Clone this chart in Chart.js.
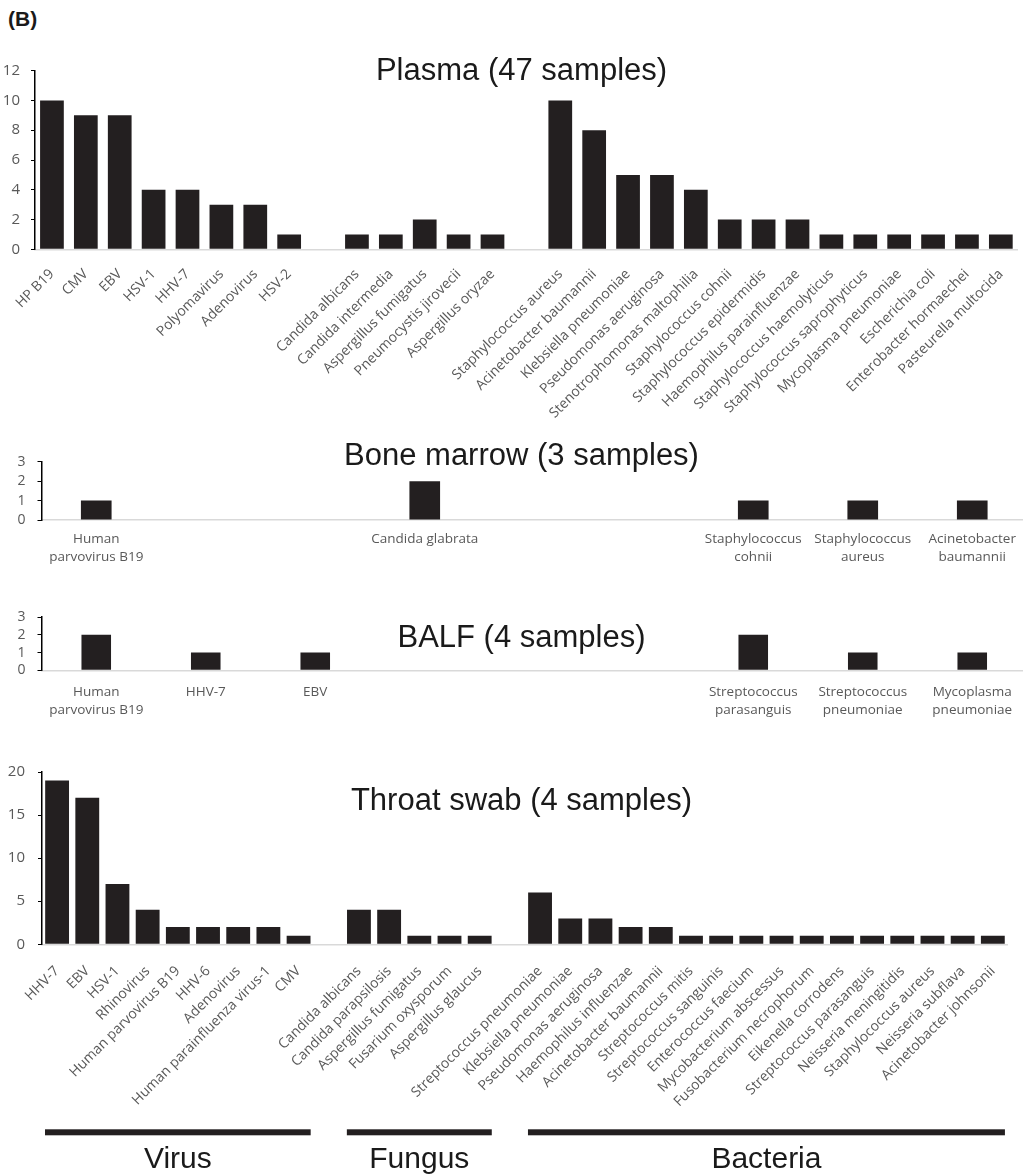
<!DOCTYPE html>
<html><head><meta charset="utf-8">
<script src="https://cdn.jsdelivr.net/npm/chart.js@4/dist/chart.umd.min.js"></script>
<style>
html,body{margin:0;padding:0;background:#fff;overflow:hidden;width:1023px;height:1176px;position:relative;}
canvas{position:absolute;left:0;}
.title{position:absolute;left:0;width:1043px;text-align:center;font-family:"Liberation Sans",Arial,sans-serif;font-size:31px;line-height:31px;color:#1a1a1a;white-space:nowrap;}
#panelB{position:absolute;left:8px;top:8px;font:bold 21px/21px "Liberation Sans",Arial,sans-serif;color:#1a1a1a;}
</style></head><body>
<div id="panelB">(B)</div>
<canvas id="plasma"></canvas>
<canvas id="bone"></canvas>
<canvas id="balf"></canvas>
<canvas id="throat"></canvas>
<div class="title" style="top:54px">Plasma (47 samples)</div>
<div class="title" style="top:439px">Bone marrow (3 samples)</div>
<div class="title" style="top:621px">BALF (4 samples)</div>
<div class="title" style="top:784px">Throat swab (4 samples)</div>
<script>
// ---------- DATA ----------
const groupNames = ['Virus', 'Fungus', 'Bacteria'];

const plasmaVirus = ['HP B19','CMV','EBV','HSV-1','HHV-7','Polyomavirus','Adenovirus','HSV-2'];
const plasmaVirusCounts = [10,9,9,4,4,3,3,1];
const plasmaFungus = ['Candida albicans','Candida intermedia','Aspergillus fumigatus','Pneumocystis jirovecii','Aspergillus oryzae'];
const plasmaFungusCounts = [1,1,2,1,1];
const plasmaBacteria = ['Staphylococcus aureus','Acinetobacter baumannii','Klebsiella pneumoniae','Pseudomonas aeruginosa','Stenotrophomonas maltophilia','Staphylococcus cohnii','Staphylococcus epidermidis','Haemophilus parainfluenzae','Staphylococcus haemolyticus','Staphylococcus saprophyticus','Mycoplasma pneumoniae','Escherichia coli','Enterobacter hormaechei','Pasteurella multocida'];
const plasmaBacteriaCounts = [10,8,5,5,4,2,2,2,1,1,1,1,1,1];
const plasmaTicks = {max: 12, step: 2};

const boneVirus = [['Human','parvovirus B19']];
const boneVirusCounts = [1];
const boneFungus = ['Candida glabrata'];
const boneFungusCounts = [2];
const boneBacteria = [['Staphylococcus','cohnii'],['Staphylococcus','aureus'],['Acinetobacter','baumannii']];
const boneBacteriaCounts = [1,1,1];
const boneTicks = {max: 3, step: 1};

const balfVirus = [['Human','parvovirus B19'],'HHV-7','EBV'];
const balfVirusCounts = [2,1,1];
const balfFungus = [];
const balfFungusCounts = [];
const balfBacteria = [['Streptococcus','parasanguis'],['Streptococcus','pneumoniae'],['Mycoplasma','pneumoniae']];
const balfBacteriaCounts = [2,1,1];
const balfTicks = {max: 3, step: 1};

const throatVirus = ['HHV-7','EBV','HSV-1','Rhinovirus','Human parvovirus B19','HHV-6','Adenovirus','Human parainfluenza virus-1','CMV'];
const throatVirusCounts = [19,17,7,4,2,2,2,2,1];
const throatFungus = ['Candida albicans','Candida parapsilosis','Aspergillus fumigatus','Fusarium oxysporum','Aspergillus glaucus'];
const throatFungusCounts = [4,4,1,1,1];
const throatBacteria = ['Streptococcus pneumoniae','Klebsiella pneumoniae','Pseudomonas aeruginosa','Haemophilus influenzae','Acinetobacter baumannii','Streptococcus mitis','Streptococcus sanguinis','Enterococcus faecium','Mycobacterium abscessus','Fusobacterium necrophorum','Eikenella corrodens','Streptococcus parasanguis','Neisseria meningitidis','Staphylococcus aureus','Neisseria subflava','Acinetobacter johnsonii'];
const throatBacteriaCounts = [6,3,3,2,2,1,1,1,1,1,1,1,1,1,1,1];
const throatTicks = {max: 20, step: 5};

// ---------- ASSEMBLY (empty slots separate the groups) ----------
function assemble(groups, gapSlots) {
  const labels = [], values = [], ranges = [];
  groups.forEach((g, gi) => {
    if (gi > 0) for (let k = 0; k < gapSlots[gi - 1]; k++) { labels.push(''); values.push(null); }
    const start = labels.length;
    g.names.forEach((n, i) => { labels.push(n); values.push(g.counts[i]); });
    if (g.names.length) ranges.push({name: groupNames[gi], start, end: labels.length - 1});
  });
  return {labels, values, ranges};
}

const plasma = assemble([{names:plasmaVirus,counts:plasmaVirusCounts},{names:plasmaFungus,counts:plasmaFungusCounts},{names:plasmaBacteria,counts:plasmaBacteriaCounts}], [1,1]);
const bone = assemble([{names:boneVirus,counts:boneVirusCounts},{names:boneFungus,counts:boneFungusCounts},{names:boneBacteria,counts:boneBacteriaCounts}], [2,2]);
const balf = assemble([{names:balfVirus,counts:balfVirusCounts},{names:balfFungus,counts:balfFungusCounts},{names:balfBacteria,counts:balfBacteriaCounts}], [3,0]);
const throat = assemble([{names:throatVirus,counts:throatVirusCounts},{names:throatFungus,counts:throatFungusCounts},{names:throatBacteria,counts:throatBacteriaCounts}], [1,1]);

const BAR = '#231f20';
const TICK = '#595959';

function build(id, d, ticks, cfg, plugins) {
  const canvas = document.getElementById(id);
  canvas.width = cfg.width; canvas.height = cfg.height;
  canvas.style.top = cfg.top + 'px';
  const padTop = cfg.areaTop - cfg.top;
  const xHeight = cfg.top + cfg.height - cfg.areaBottom;
  return new Chart(canvas, {
    type: 'bar',
    data: {labels: d.labels, datasets: [{data: d.values, backgroundColor: BAR, borderWidth: 0, barPercentage: cfg.barPct, categoryPercentage: 1}]},
    options: {
      responsive: false, animation: false, devicePixelRatio: 1,
      layout: {padding: {top: padTop, left: 0, right: 0, bottom: 0}},
      plugins: {legend: {display: false}, tooltip: {enabled: false}, title: {display: false}},
      scales: {
        x: {
          grid: {display: false, drawTicks: false},
          border: {display: true, color: '#d9d9d9', width: 1.5},
          ticks: {autoSkip: false, maxRotation: cfg.rot, minRotation: cfg.rot, padding: cfg.xPad, color: TICK,
                  font: {family: '"Open Sans", sans-serif', size: cfg.xFont, lineHeight: 1.33}},
          afterFit: s => { s.height = xHeight; }
        },
        y: {
          min: 0, max: ticks.max,
          grid: {display: true, drawOnChartArea: false, drawTicks: true, tickLength: 4, color: '#000', lineWidth: 1},
          border: {display: true, color: '#000', width: 1.5},
          ticks: {stepSize: ticks.step, autoSkip: false, padding: cfg.yPad, color: TICK, font: {family: '"Open Sans", sans-serif', size: cfg.yFont}},
          afterFit: s => { s.width = cfg.areaLeft; }
        }
      }
    },
    plugins: plugins || []
  });
}

const groupPlugin = {
  id: 'groupBars',
  afterDraw(chart) {
    const {ctx} = chart; const x = chart.scales.x;
    const half = (x.getPixelForValue(1) - x.getPixelForValue(0)) / 2;
    const lineY = chart.chartArea.bottom + 188;
    const textY = chart.chartArea.bottom + 224;
    throat.ranges.forEach(g => {
      const x0 = x.getPixelForValue(g.start) - half + 3;
      const x1 = x.getPixelForValue(g.end) + half - 3;
      ctx.save();
      ctx.fillStyle = BAR;
      ctx.fillRect(x0, lineY - 3, x1 - x0, 6);
      ctx.fillStyle = '#1a1a1a';
      ctx.font = '30px "Liberation Sans", Arial, sans-serif';
      ctx.textAlign = 'center'; ctx.textBaseline = 'alphabetic';
      ctx.fillText(g.name, (x0 + x1) / 2, textY);
      ctx.restore();
    });
  }
};

build('plasma', plasma, plasmaTicks, {top: 50, height: 380, width: 1030, areaTop: 70.7, areaBottom: 249.3, areaLeft: 35, barPct: 0.70, rot: 45, xPad: 16, xFont: 14, yFont: 15, yPad: 11});
build('bone', bone, boneTicks, {top: 440, height: 140, width: 1027, areaTop: 461.7, areaBottom: 520, areaLeft: 41.5, barPct: 0.28, rot: 0, xPad: 10, xFont: 13.5, yFont: 14, yPad: 12});
build('balf', balf, balfTicks, {top: 595, height: 140, width: 1027, areaTop: 617, areaBottom: 670.3, areaLeft: 41.5, barPct: 0.27, rot: 0, xPad: 12.5, xFont: 13.5, yFont: 14, yPad: 12});
build('throat', throat, throatTicks, {top: 750, height: 426, width: 1024, areaTop: 771, areaBottom: 944.3, areaLeft: 42, barPct: 0.79, rot: 45, xPad: 18, xFont: 14, yFont: 15, yPad: 13}, [groupPlugin]);
</script>
</body></html>
